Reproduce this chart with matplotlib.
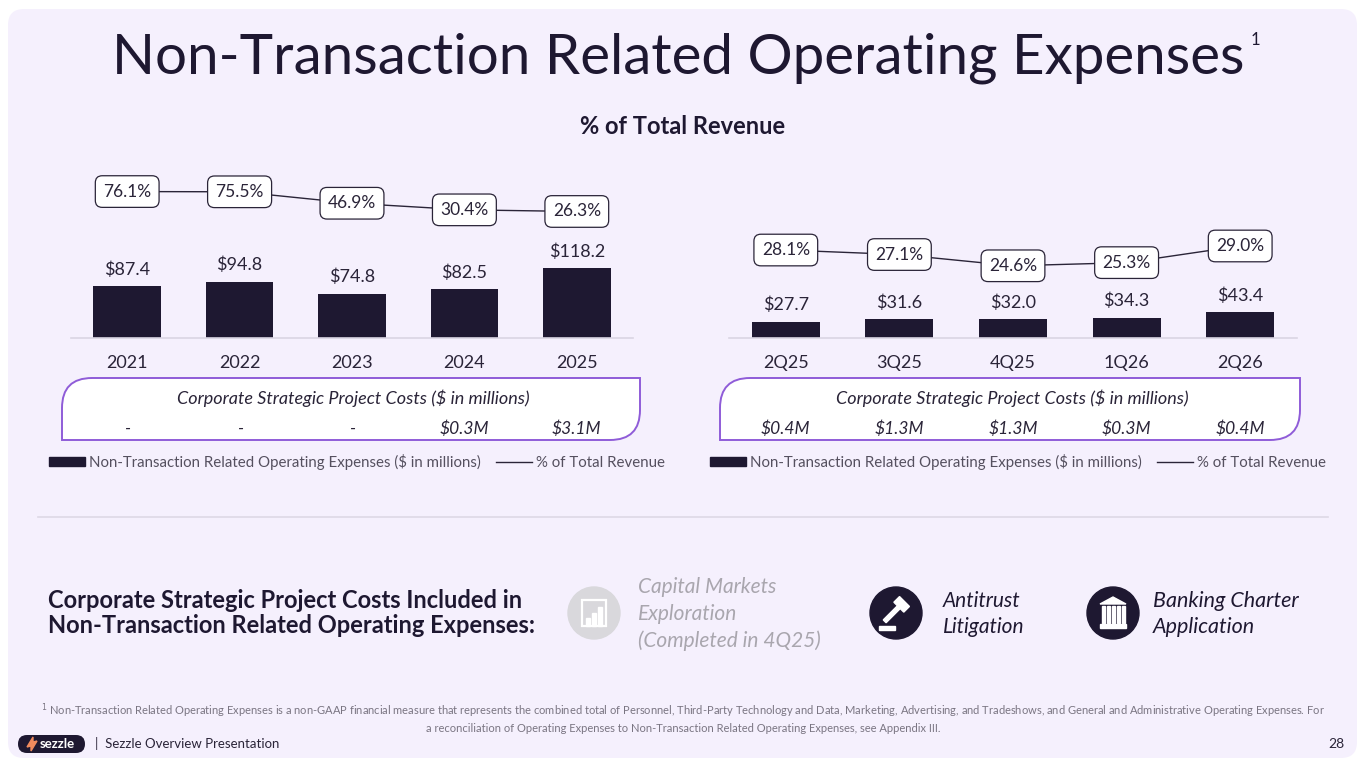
import matplotlib
matplotlib.use("Agg")
import matplotlib.pyplot as plt
import matplotlib.transforms as mtransforms
from matplotlib.patches import FancyBboxPatch, PathPatch, Circle, Rectangle, Polygon
from matplotlib.path import Path
from matplotlib.lines import Line2D
import numpy as np

plt.rcParams['font.family'] = ['Lato', 'DejaVu Sans']

# data
years = ['2021', '2022', '2023', '2024', '2025']
annual_opex = [87.4, 94.8, 74.8, 82.5, 118.2]
annual_pct = [76.1, 75.5, 46.9, 30.4, 26.3]
annual_proj = ['-', '-', '-', '$0.3M', '$3.1M']

quarters = ['2Q25', '3Q25', '4Q25', '1Q26', '2Q26']
qtr_opex = [27.7, 31.6, 32.0, 34.3, 43.4]
qtr_pct = [28.1, 27.1, 24.6, 25.3, 29.0]
qtr_proj = ['$0.4M', '$1.3M', '$1.3M', '$0.3M', '$0.4M']

DARK = '#1E1831'
TEXT = '#2A2438'
GREY = '#55505F'
PURPLE = '#8F5CD8'
PANEL = '#F5F0FD'

W, H = 1365, 768
fig = plt.figure(figsize=(W / 100, H / 100), dpi=100)
fig.patch.set_facecolor('white')

# background axes in pixel coordinates
bg = fig.add_axes([0, 0, 1, 1])
bg.set_xlim(0, W)
bg.set_ylim(H, 0)
bg.axis('off')
bg.add_patch(FancyBboxPatch((8, 9), W - 16, H - 19, boxstyle='round,pad=0,rounding_size=16',
                            facecolor=PANEL, edgecolor='none', zorder=0))

# title, sized to span the same width as the slide title
renderer = fig.canvas.get_renderer()
title = bg.text(112, 58, 'Non-Transaction Related Operating Expenses', fontsize=40, color=DARK,
                va='center', ha='left')
tw = title.get_window_extent(renderer).width
title.set_fontsize(40 * 1132 / tw)
bg.text(1251, 40, '1', fontsize=12, color=DARK, va='center', ha='left')
bg.text(683, 126, '% of Total Revenue', fontsize=17, fontweight='bold', color=DARK,
        ha='center', va='center')


def cost_box(x0, x1, y0, y1, r):
    verts = [(x0, y0 + r), (x0, y0), (x0 + r, y0), (x1, y0), (x1, y1 - r),
             (x1, y1), (x1 - r, y1), (x0, y1), (x0, y0 + r)]
    codes = [Path.MOVETO, Path.CURVE3, Path.CURVE3, Path.LINETO, Path.LINETO,
             Path.CURVE3, Path.CURVE3, Path.LINETO, Path.CLOSEPOLY]
    bg.add_patch(PathPatch(Path(verts, codes), facecolor='white', edgecolor=PURPLE, lw=1.4, zorder=1))


def combo(left_px, right_px, cats, bars, pcts, proj, ylo, yhi, box_x, leg_cx):
    bottom_px, top_px = 338, 178
    ax = fig.add_axes([left_px / W, 1 - bottom_px / H, (right_px - left_px) / W, (bottom_px - top_px) / H])
    ax.patch.set_alpha(0)
    x = np.arange(len(cats))
    b = ax.bar(x, bars, width=0.6, color=DARK, zorder=2,
               label='Non-Transaction Related Operating Expenses ($ in millions)')
    for xi, v in zip(x, bars):
        ax.annotate(f'${v:.1f}', (xi, v), xytext=(0, 6), textcoords='offset points',
                    ha='center', va='bottom', fontsize=13, color=TEXT)
    ax.set_xlim(-0.5, len(cats) - 0.5)
    ax.set_ylim(0, 270)
    ax.set_yticks([])
    ax.set_xticks(x, cats)
    ax.tick_params(axis='x', length=0, pad=12, labelsize=13, labelcolor=TEXT)
    for s in ['top', 'right', 'left']:
        ax.spines[s].set_visible(False)
    ax.spines['bottom'].set_color('#DAD5E3')
    ax.spines['bottom'].set_linewidth(1.2)

    ax2 = ax.twinx()
    ln, = ax2.plot(x, pcts, color='#2A2438', lw=1, zorder=3, label='% of Total Revenue')
    for xi, p in zip(x, pcts):
        ax2.text(xi, p, f'{p:.1f}%', ha='center', va='center', fontsize=12.5, color=TEXT, zorder=4,
                 bbox=dict(boxstyle='round,pad=0.45,rounding_size=0.4', fc='white', ec=TEXT, lw=0.9))
    ax2.set_ylim(ylo, yhi)
    ax2.axis('off')

    cost_box(box_x[0], box_x[1], 378, 440, 30)
    bg.text((box_x[0] + box_x[1]) / 2 + 2, 398, 'Corporate Strategic Project Costs ($ in millions)',
            style='italic', fontsize=13, color=TEXT, ha='center', va='center', zorder=2)
    tr = mtransforms.blended_transform_factory(ax.transData, bg.transData)
    for xi, t in zip(x, proj):
        bg.text(xi, 429, t, transform=tr, style='italic', fontsize=12.5, color=TEXT,
                ha='center', va='center', zorder=2)

    bar_h = Rectangle((0, 0), 1, 1, color=DARK)
    line_h = Line2D([], [], color='#2A2438', lw=1)
    leg = bg.legend([bar_h, line_h], [b.get_label(), ln.get_label()], loc='center',
                    bbox_to_anchor=(leg_cx / W, 1 - 462 / H), ncol=2, frameon=False, fontsize=10.8,
                    handlelength=2.4, handleheight=0.55, handletextpad=0.3, columnspacing=1.0,
                    labelcolor=GREY)
    bg.add_artist(leg)
    bg.legend_ = None
    return ax


combo(71, 633, years, annual_opex, annual_pct, annual_proj, -290, 110, (62, 640), 357)
combo(729, 1297, quarters, qtr_opex, qtr_pct, qtr_proj, 8.56, 44.1, (720, 1300), 1018)

bg.plot([38, 1328], [517, 517], color='#DDD8E6', lw=1.2)

bg.text(48, 613, 'Corporate Strategic Project Costs Included in\nNon-Transaction Related Operating Expenses:',
        fontsize=17, fontweight='bold', color=DARK, va='center', ha='left', linespacing=1.15)

# icons
bg.add_patch(Circle((594, 613), 26, color='#D9D8DC', zorder=2))
bg.add_patch(Rectangle((582, 600), 24, 26, fill=False, ec='white', lw=1.6, zorder=3))
for bx, bh in [(586, 8), (592, 13), (598, 19)]:
    bg.add_patch(Rectangle((bx, 626 - bh), 4, bh, color='white', zorder=3))

bg.add_patch(Circle((896, 613), 26, color=DARK, zorder=2))
gav = mtransforms.Affine2D().rotate_deg_around(896, 610, 45) + bg.transData
bg.add_patch(Rectangle((889, 598), 14, 8, color='white', transform=gav, zorder=3))
bg.add_patch(Rectangle((894, 606), 4, 20, color='white', transform=gav, zorder=3))
bg.add_patch(Rectangle((879, 626), 16, 4, color='white', zorder=3))

bg.add_patch(Circle((1113, 613), 26, color=DARK, zorder=2))
bg.add_patch(Polygon([(1100, 604), (1113, 597), (1126, 604)], closed=True, color='white', zorder=3))
bg.add_patch(Rectangle((1100, 624), 26, 4, color='white', zorder=3))
for cx in [1102, 1107, 1112, 1117, 1122]:
    bg.add_patch(Rectangle((cx, 606), 2.5, 17, color='white', zorder=3))

bg.text(638, 614, 'Capital Markets\nExploration\n(Completed in 4Q25)', style='italic', fontsize=15,
        color='#A9A6AE', va='center', ha='left', linespacing=1.42)
bg.text(943, 614, 'Antitrust\nLitigation', style='italic', fontsize=15, color=DARK,
        va='center', ha='left', linespacing=1.42)
bg.text(1153, 614, 'Banking Charter\nApplication', style='italic', fontsize=15.5, color=DARK,
        va='center', ha='left', linespacing=1.38)

bg.text(683, 718, '$^1$ Non-Transaction Related Operating Expenses is a non-GAAP financial measure that represents the combined '
        'total of Personnel, Third-Party Technology and Data, Marketing, Advertising, and Tradeshows, and General and '
        'Administrative Operating Expenses. For\na reconciliation of Operating Expenses to Non-Transaction Related '
        'Operating Expenses, see Appendix III.', fontsize=8, color='#7A7582', ha='center', va='center',
        linespacing=1.3)

bg.add_patch(FancyBboxPatch((18, 735), 67, 18, boxstyle='round,pad=0,rounding_size=9',
                            facecolor=DARK, edgecolor='none', zorder=2))
bg.add_patch(Polygon([(27, 747), (33, 737), (33, 742), (37, 741), (31, 751), (31, 746)], closed=True,
                     color='#F08A5D', zorder=3))
bg.text(57, 744, 'sezzle', fontsize=9.5, fontweight='bold', color='white', ha='center', va='center', zorder=3)
bg.text(95, 744, '|  Sezzle Overview Presentation', fontsize=9.5, color=TEXT, ha='left', va='center')
bg.text(1344, 744, '28', fontsize=10, color=TEXT, ha='right', va='center')

fig.savefig('out.png', dpi=100, facecolor=fig.get_facecolor())
